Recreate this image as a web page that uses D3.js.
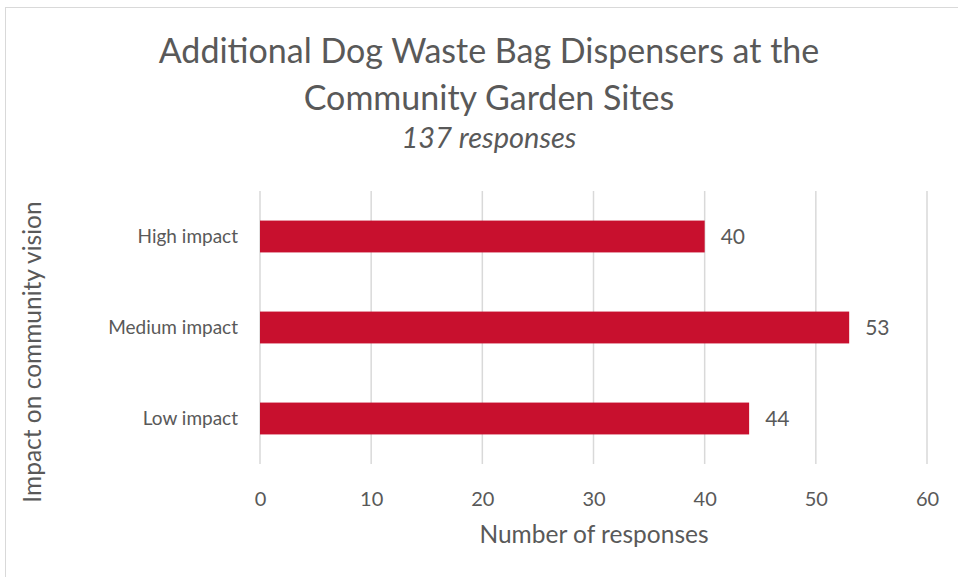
<!DOCTYPE html>
<html>
<head>
<meta charset="utf-8">
<script src="https://cdn.jsdelivr.net/npm/d3@7"></script>
<style>
	body { margin: 0; background: #fff; }
	text { font-family: Lato, "Open Sans", sans-serif; fill: #595959; }
</style>
</head>
<body>
<div id="chart"></div>
<script>
var categories = ["High impact", "Medium impact", "Low impact"];
var responses = [40, 53, 44];
var xTicks = [0, 10, 20, 30, 40, 50, 60];

var W = 958, H = 577;
var margin = {top: 191, right: 31, left: 260, bottom: 113},
		width = W - margin.left - margin.right,
		height = H - margin.top - margin.bottom;

var svg = d3.select("div#chart").append("svg")
		.attr("width", W)
		.attr("height", H);

// outer chart border
svg.append("rect")
	.attr("x", 5.5).attr("y", 7.5)
	.attr("width", W).attr("height", H)
	.attr("fill", "none")
	.attr("stroke", "#d9d9d9");

var x = d3.scaleLinear()
		.domain([0, 60])
		.range([0, width]);

var y = d3.scaleBand()
		.domain(categories)
		.range([0, height])
		.paddingInner(0.65)
		.paddingOuter(0.325);

var g = svg.append("g")
		.attr("transform", "translate(" + margin.left + "," + margin.top + ")");

// gridlines
g.append("g")
	.selectAll("line")
	.data(xTicks)
	.enter()
	.append("line")
	.attr("x1", function(d) { return x(d); })
	.attr("x2", function(d) { return x(d); })
	.attr("y1", 0)
	.attr("y2", height)
	.attr("stroke", "#d9d9d9")
	.attr("stroke-width", 1.5);

var xAxis = d3.axisBottom(x)
		.tickValues(xTicks)
		.tickSize(0)
		.tickPadding(28);

g.append("g")
	.attr("class", "x axis")
	.attr("transform", "translate(0," + height + ")")
	.call(xAxis)
	.call(function(s) { s.select(".domain").remove(); })
	.selectAll("text")
		.attr("font-size", 20)
		.style("font-family", "Lato, sans-serif");

var yAxis = d3.axisLeft(y)
		.tickSize(0)
		.tickPadding(22);

g.append("g")
	.attr("class", "y axis")
	.call(yAxis)
	.call(function(s) { s.select(".domain").remove(); })
	.selectAll("text")
		.attr("font-size", 19)
		.style("font-family", "Lato, sans-serif");

g.selectAll("rect.bar")
	.data(responses)
	.enter()
	.append("rect")
	.attr("class", "bar")
	.attr("fill", "#c8102e")
	.attr("x", x(0))
	.attr("y", function(d, i) { return y(categories[i]); })
	.attr("width", function(d) { return x(d) - x(0); })
	.attr("height", y.bandwidth());

g.selectAll("text.label")
	.data(responses)
	.enter()
	.append("text")
	.attr("class", "label")
	.attr("x", function(d) { return x(d) + 16; })
	.attr("y", function(d, i) { return y(categories[i]) + y.bandwidth() / 2; })
	.attr("dy", "0.35em")
	.attr("font-size", 21)
	.text(function(d) { return d; });

// titles
svg.append("text")
	.attr("text-anchor", "middle")
	.attr("x", 489).attr("y", 63)
	.attr("font-size", 34)
	.text("Additional Dog Waste Bag Dispensers at the");

svg.append("text")
	.attr("text-anchor", "middle")
	.attr("x", 489).attr("y", 110)
	.attr("font-size", 34)
	.text("Community Garden Sites");

svg.append("text")
	.attr("text-anchor", "middle")
	.attr("x", 489).attr("y", 148)
	.attr("font-size", 29)
	.attr("font-style", "italic")
	.text("137 responses");

svg.append("text")
	.attr("text-anchor", "middle")
	.attr("x", 594).attr("y", 543)
	.attr("font-size", 24.5)
	.text("Number of responses");

svg.append("text")
	.attr("text-anchor", "middle")
	.attr("transform", "translate(41,352) rotate(-90)")
	.attr("font-size", 24.5)
	.text("Impact on community vision");
</script>
</body>
</html>
